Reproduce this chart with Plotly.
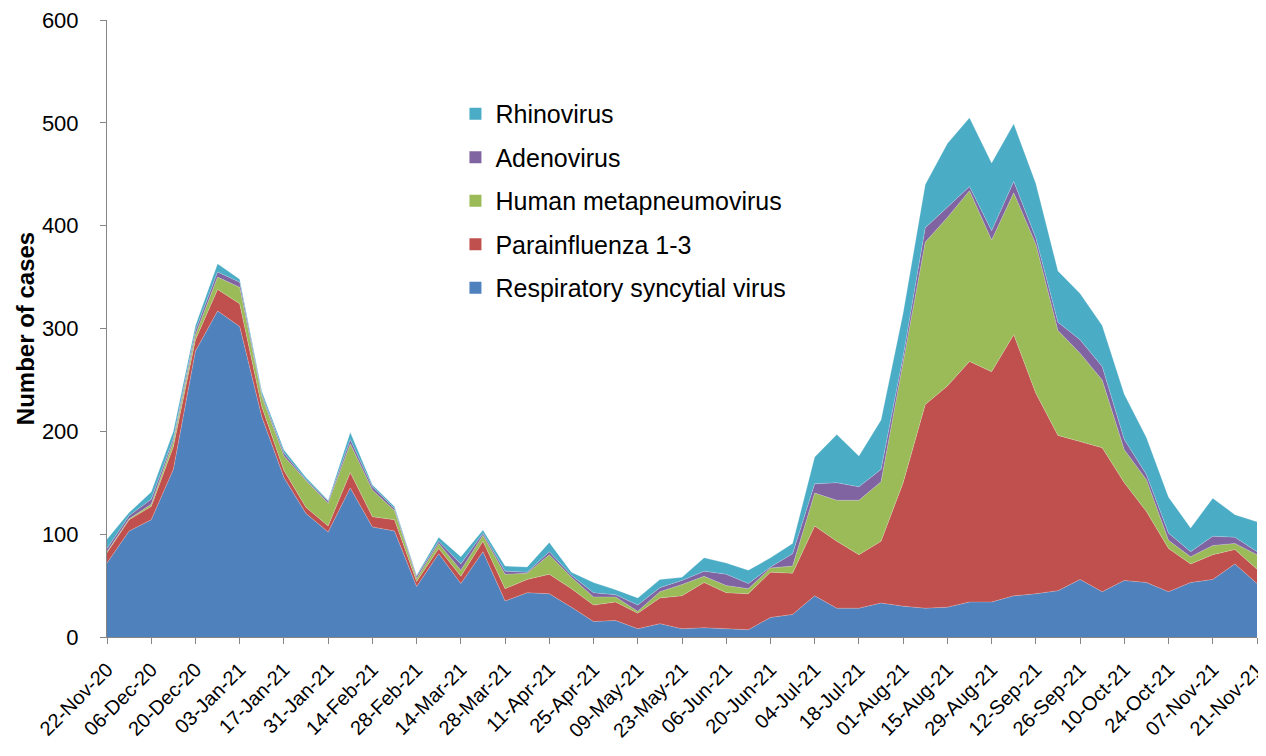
import pandas as pd
import plotly.graph_objects as go

weeks = [d.strftime("%d-%b-%y") for d in pd.date_range("2020-11-22", periods=53, freq="7D")]

rsv = [72, 103, 114, 163, 278, 317, 302, 214, 155, 120, 102, 145, 107, 103, 49, 81, 52, 83, 35, 43,
       42, 29, 15, 16, 8, 13, 8, 9, 8, 7, 19, 22, 40, 28, 28, 33, 30, 28, 29, 34,
       34, 40, 42, 45, 56, 44, 55, 53, 44, 53, 56, 71, 52]
para = [10, 11, 13, 22, 11, 21, 22, 10, 7, 6, 6, 15, 10, 11, 5, 5, 7, 10, 12, 13,
        19, 18, 16, 18, 15, 25, 32, 44, 35, 35, 44, 40, 68, 65, 52, 60, 120, 198, 215, 234,
        224, 254, 195, 151, 134, 140, 95, 69, 42, 18, 24, 14, 14]
hmpv = [1, 1, 2, 5, 5, 12, 16, 10, 14, 26, 22, 28, 26, 9, 3, 5, 6, 6, 14, 6,
        19, 11, 8, 5, 2, 6, 11, 6, 7, 5, 4, 7, 32, 40, 53, 58, 117, 158, 164, 166,
        128, 138, 145, 102, 86, 66, 32, 31, 8, 7, 9, 6, 14]
adeno = [3, 3, 5, 3, 4, 5, 5, 2, 3, 1, 2, 4, 3, 2, 2, 2, 6, 2, 3, 1,
         3, 2, 4, 2, 6, 4, 4, 5, 11, 5, 1, 12, 9, 17, 13, 12, 6, 14, 10, 4,
         9, 11, 6, 8, 13, 13, 10, 5, 7, 5, 9, 6, 3]
rhino = [9, 3, 7, 7, 5, 8, 3, 3, 3, 2, 1, 7, 2, 2, 1, 4, 7, 3, 5, 5,
         9, 3, 10, 5, 7, 8, 3, 13, 11, 13, 9, 10, 26, 47, 30, 48, 42, 42, 62, 67,
         66, 56, 53, 50, 45, 40, 44, 36, 35, 23, 37, 22, 29]

series = [
    ("Respiratory syncytial virus", rsv, "#4F81BD"),
    ("Parainfluenza 1-3", para, "#C0504D"),
    ("Human metapneumovirus", hmpv, "#9BBB59"),
    ("Adenovirus", adeno, "#8064A2"),
    ("Rhinovirus", rhino, "#4BACC6"),
]

fig = go.Figure()
for name, vals, col in series:
    fig.add_trace(go.Scatter(
        x=weeks, y=vals, name=name, stackgroup="one", mode="lines",
        line=dict(width=0.6, color="rgba(255,255,255,0.35)"), fillcolor=col,
        showlegend=False, hoverinfo="x+y+name"))
for name, vals, col in reversed(series):
    fig.add_trace(go.Scatter(
        x=[None], y=[None], name=name, mode="markers", legendgroup=name,
        marker=dict(symbol="square", size=12, color=col), showlegend=True))

fig.update_layout(
    width=1258, height=740,
    margin=dict(l=99, r=9, t=12, b=111),
    paper_bgcolor="white", plot_bgcolor="white",
    font=dict(family="Liberation Sans, Arial, sans-serif", size=22, color="black"),
    legend=dict(x=0.303, y=0.885, xanchor="left", yanchor="top", traceorder="grouped",
                tracegroupgap=8, font=dict(size=25), bgcolor="rgba(0,0,0,0)", itemwidth=30),
    showlegend=True,
)
fig.update_xaxes(
    type="category", range=[0, 52], tickmode="array", tickvals=weeks[::2], ticktext=weeks[::2],
    tickangle=-45, tickfont=dict(size=20), showline=True, linecolor="#868686", linewidth=1,
    ticks="outside", ticklen=6, tickcolor="#868686", showgrid=False, zeroline=False,
    automargin=False, ticklabelstandoff=6, ticklabeloverflow="allow")
fig.update_yaxes(
    range=[0, 600], dtick=100, tickfont=dict(size=22), showline=True, linecolor="#868686",
    linewidth=1, ticks="outside", ticklen=6, tickcolor="#868686", showgrid=False, zeroline=False,
    automargin=False, ticklabelstandoff=17, ticklabeloverflow="allow",
    title=dict(text="<b>Number of cases</b>", font=dict(size=24), standoff=0))

fig.write_html("out.html")
